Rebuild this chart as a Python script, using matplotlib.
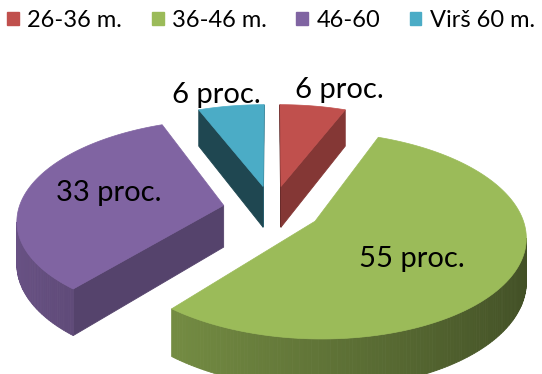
import numpy as np
import matplotlib
matplotlib.use("Agg")
import matplotlib.pyplot as plt
from matplotlib.patches import Polygon, Patch
from matplotlib.colors import to_rgb

## Data
labels = ["26-36 m.", "36-46 m.", "46-60", "Virš 60 m."]
values = [6, 55, 33, 6]
value_text = ["6 proc.", "55 proc.", "33 proc.", "6 proc."]
colors = ["#C0504D", "#9BBB59", "#8064A2", "#4BACC6"]

## Layout of the 3d pie (pixel units, y down)
CX, CY = 272, 209   # pie centre
R = 205             # radius
K = 0.48            # tilt (ry / rx)
P = 0.134           # perspective strength
DEPTH = 0.205       # thickness / radius
EXPLODE = 0.24
label_pos = [(339, 90), (412, 259), (109, 193), (216, 95)]

plt.rcParams['font.family'] = ['Lato', 'DejaVu Sans']

def project(X, Y, d):
    f = 1.0 / (1.0 + P * Y)
    return CX + R * X * f, CY + R * f * (-K * Y + d)

def shade(c, k):
    return tuple(min(1, v * k) for v in to_rgb(c))

def area(pts):
    x, y = np.array(pts).T
    return 0.5 * np.sum(x * np.roll(y, -1) - np.roll(x, -1) * y)

fig = plt.figure(figsize=(5.42, 3.74), dpi=100)
ax = fig.add_axes([0, 0, 1, 1])
ax.set_xlim(0, 542)
ax.set_ylim(374, 0)
ax.axis("off")

total = float(sum(values))
cum = np.concatenate([[0], np.cumsum(values)])
wedges = []
for i, v in enumerate(values):
    a_start = np.radians(90 - 360 * cum[i] / total)
    a_end = np.radians(90 - 360 * cum[i + 1] / total)
    mid = 0.5 * (a_start + a_end)
    ox, oy = EXPLODE * np.cos(mid), EXPLODE * np.sin(mid)
    th = np.linspace(a_end, a_start, max(6, int(v * 4)))
    # boundary ccw in the plane: centre -> arc -> centre
    bx = np.concatenate([[ox], ox + np.cos(th)])
    by = np.concatenate([[oy], oy + np.sin(th)])
    wedges.append((oy, i, bx, by, th))

# back to front
for oy, i, bx, by, th in sorted(wedges, key=lambda w: -w[0]):
    n = len(bx)
    faces = []
    for j in range(n):
        k2 = (j + 1) % n
        quad = [project(bx[j], by[j], 0), project(bx[k2], by[k2], 0),
                project(bx[k2], by[k2], DEPTH), project(bx[j], by[j], DEPTH)]
        if area(quad) <= 0:
            continue
        if j == 0 or k2 == 0:
            # radial face
            ex, ey = bx[k2] - bx[j], by[k2] - by[j]
            nx = ey / np.hypot(ex, ey)
            fac = 0.55 + 0.15 * nx
        else:
            tm = 0.5 * (th[j - 1] + th[k2 - 1])
            fac = 0.62 - 0.2 * np.cos(tm)
        depth_key = 0.5 * (by[j] + by[k2])
        faces.append((-depth_key, quad, fac))
    for _, quad, fac in sorted(faces, key=lambda f: f[0]):
        c = shade(colors[i], fac)
        ax.add_patch(Polygon(quad, closed=True, facecolor=c, edgecolor=c, lw=0.6))
    top = [project(x, y, 0) for x, y in zip(bx, by)]
    ax.add_patch(Polygon(top, closed=True, facecolor=colors[i], edgecolor=colors[i], lw=0.5))

for (x, y), t in zip(label_pos, value_text):
    ax.text(x, y, t, ha="center", va="center", fontsize=21, color="black")

handles = [Patch(facecolor=c, edgecolor=c) for c in colors]
fig.legend(handles, labels, loc="upper center", bbox_to_anchor=(0.5, 1.03), ncol=4,
           frameon=False, fontsize=17, handlelength=0.5, handleheight=0.5,
           handletextpad=0.35, columnspacing=1.25)

fig.savefig("out.png", dpi=100)
plt.close("all")
